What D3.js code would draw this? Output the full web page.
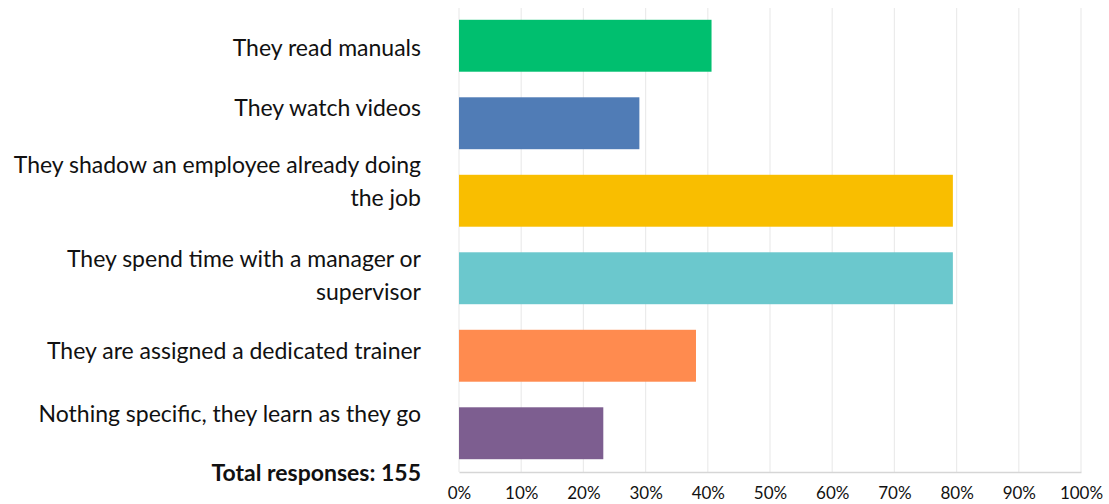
<!DOCTYPE html>
<html>
<head>
<meta charset="utf-8">
<script src="https://cdn.jsdelivr.net/npm/d3@7/dist/d3.min.js"></script>
<style>
  html, body { margin: 0; padding: 0; background: #ffffff; }
  svg { display: block; }
  .cat { font-family: Lato, "Open Sans", sans-serif; font-size: 23px; fill: #111; }
  .tick text { font-family: Lato, "Open Sans", sans-serif; font-size: 17px; fill: #111; }
</style>
</head>
<body>
<svg id="chart" width="1109" height="504"></svg>
<script>
// Onboarding methods, share of 155 respondents (percent)
const categories = [
  ["They read manuals"],
  ["They watch videos"],
  ["They shadow an employee already doing", "the job"],
  ["They spend time with a manager or", "supervisor"],
  ["They are assigned a dedicated trainer"],
  ["Nothing specific, they learn as they go"]
];
const values = [40.6, 29.0, 79.4, 79.4, 38.1, 23.2];
const colors = ["#00bf6f", "#507cb6", "#f9be00", "#6bc8cd", "#ff8b4f", "#7d5e90"];
const tickValues = [0, 10, 20, 30, 40, 50, 60, 70, 80, 90, 100];
const totalLabel = "Total responses: 155";

const svg = d3.select("#chart");
const plot = { left: 459, right: 1081, top: 7, bottom: 472 };

const x = d3.scaleLinear().domain([0, 100]).range([plot.left, plot.right]);
const y = d3.scaleBand()
  .domain(d3.range(categories.length))
  .range([plot.top, plot.bottom])
  .paddingInner(0.33)
  .paddingOuter(0.165);

// vertical gridlines
svg.append("g")
  .selectAll("line")
  .data(tickValues)
  .join("line")
  .attr("x1", d => x(d)).attr("x2", d => x(d))
  .attr("y1", 8).attr("y2", plot.bottom)
  .attr("stroke", "#ebebeb")
  .attr("stroke-width", 1.2);

// bars
svg.append("g")
  .selectAll("rect")
  .data(values)
  .join("rect")
  .attr("x", x(0))
  .attr("y", (d, i) => y(i))
  .attr("width", d => x(d) - x(0))
  .attr("height", y.bandwidth())
  .attr("fill", (d, i) => colors[i]);

// bottom axis
const axis = d3.axisBottom(x)
  .tickValues(tickValues)
  .tickFormat(d => d + "%")
  .tickSize(0)
  .tickPadding(15);
const gx = svg.append("g")
  .attr("transform", `translate(0,${plot.bottom})`)
  .call(axis);
gx.select(".domain").attr("stroke", "#d6d6d6").attr("stroke-width", 1.5);

// category labels, right-aligned to the left of the plot
const labelX = 421;
const lineGap = 33;
const lineShift = [1, -16, -20, -4, -6, -20];
const labels = svg.append("g").selectAll("text")
  .data(categories)
  .join("text")
  .attr("class", "cat")
  .attr("text-anchor", "end")
  .attr("x", labelX)
  .attr("y", (d, i) => y(i) + y.bandwidth() / 2 - (d.length - 1) * lineGap / 2 + lineShift[i])
  .attr("dominant-baseline", "central");
labels.selectAll("tspan")
  .data(d => d)
  .join("tspan")
  .attr("x", labelX)
  .attr("dy", (d, j) => j === 0 ? 0 : lineGap)
  .text(d => d);

svg.append("text")
  .attr("class", "cat")
  .attr("text-anchor", "end")
  .attr("x", labelX)
  .attr("y", 472)
  .attr("dominant-baseline", "central")
  .style("font-weight", "bold")
  .text(totalLabel);
</script>
</body>
</html>
